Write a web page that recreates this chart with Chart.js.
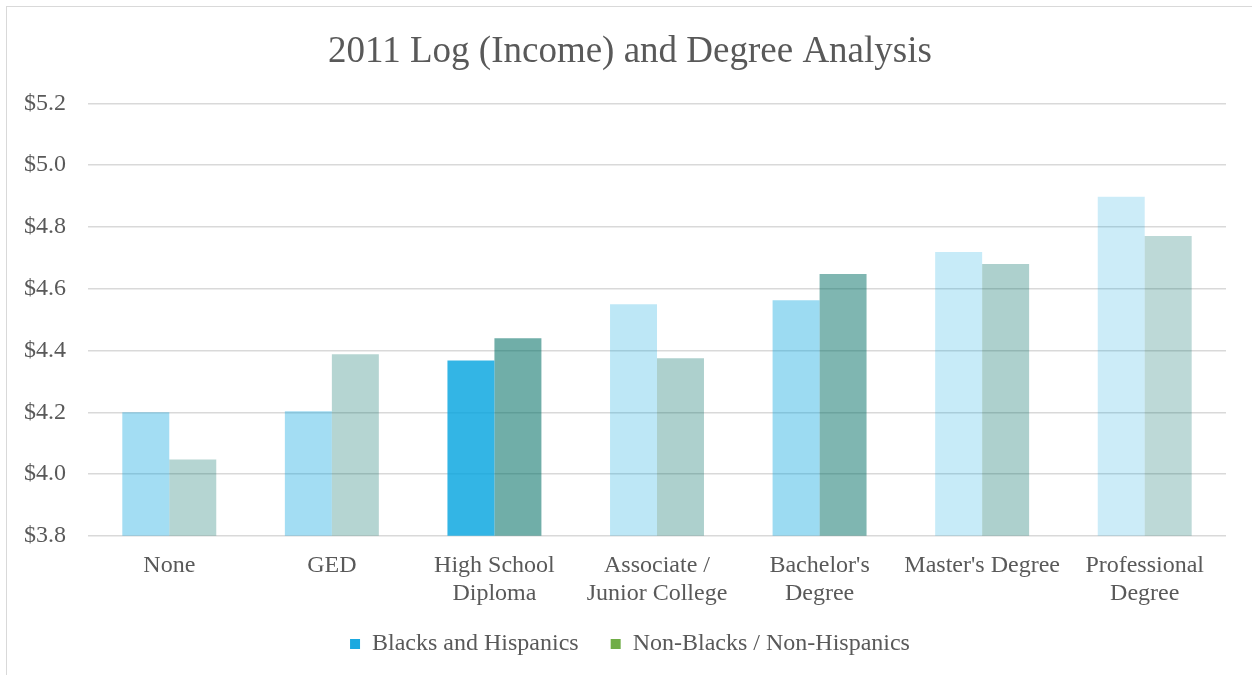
<!DOCTYPE html>
<html>
<head>
<meta charset="utf-8">
<script src="https://cdn.jsdelivr.net/npm/chart.js@4"></script>
<style>
  html, body { margin: 0; padding: 0; background: #fff; overflow: hidden; }
  #frame { position: absolute; left: 6px; top: 6px; width: 1300px; height: 720px; border: 1px solid #d9d9d9; }
  #wrap { position: absolute; left: 8px; top: 8px; width: 1244px; height: 667px; }
</style>
</head>
<body>
<div id="frame"></div>
<div id="wrap"><canvas id="degree-chart"></canvas></div>
<script>
const degreeLabels = ["None", "GED", ["High School", "Diploma"], ["Associate /", "Junior College"], ["Bachelor's", "Degree"], "Master's Degree", ["Professional", "Degree"]];

const blackHispanic = [4.20, 4.203, 4.368, 4.55, 4.563, 4.719, 4.898];
const nonBlackHispanic = [4.047, 4.388, 4.44, 4.375, 4.648, 4.68, 4.771];

// each bar in the original has its own shade
const blueAlpha = [0.36, 0.36, 0.80, 0.26, 0.39, 0.22, 0.20];
const greenAlpha = [0.29, 0.29, 0.56, 0.32, 0.50, 0.32, 0.26];

const yTicks = [3.8, 4.0, 4.2, 4.4, 4.6, 4.8, 5.0, 5.2];

const textColor = "#595959";
const serif = "'Liberation Serif', 'Times New Roman', serif";

new Chart("degree-chart", {
    type: "bar",
    data: {
        labels: degreeLabels,
        datasets: [
            {
                label: "Blacks and Hispanics",
                data: blackHispanic,
                backgroundColor: blueAlpha.map(a => "rgba(0,162,222," + a + ")"),
                borderWidth: 0,
                barPercentage: 1,
                categoryPercentage: 0.578
            },
            {
                label: "Non-Blacks / Non-Hispanics",
                data: nonBlackHispanic,
                backgroundColor: greenAlpha.map(a => "rgba(0,110,100," + a + ")"),
                borderWidth: 0,
                barPercentage: 1,
                categoryPercentage: 0.578
            }
        ]
    },
    options: {
        responsive: true,
        maintainAspectRatio: false,
        animation: false,
        layout: { padding: { left: 0, right: 0, top: 0, bottom: 9 } },
        plugins: {
            title: {
                display: true,
                text: "2011 Log (Income) and Degree Analysis",
                color: textColor,
                font: { family: serif, size: 37, weight: "normal" },
                padding: { top: 22, bottom: 29 }
            },
            legend: {
                position: "bottom",
                labels: {
                    color: textColor,
                    font: { family: serif, size: 24 },
                    boxWidth: 10,
                    boxHeight: 10,
                    padding: 8,
                    generateLabels: chart => [
                        { text: "Blacks and Hispanics    ", fillStyle: "#1aa9e0", strokeStyle: "#1aa9e0", lineWidth: 0, fontColor: textColor, datasetIndex: 0 },
                        { text: "Non-Blacks / Non-Hispanics", fillStyle: "#70ad47", strokeStyle: "#70ad47", lineWidth: 0, fontColor: textColor, datasetIndex: 1 }
                    ]
                }
            },
            tooltip: { enabled: false }
        },
        scales: {
            x: {
                grid: { display: false, drawTicks: false },
                border: { display: false },
                ticks: {
                    color: textColor,
                    font: { family: serif, size: 24, lineHeight: 1.17 },
                    padding: 16,
                    maxRotation: 0,
                    autoSkip: false
                }
            },
            y: {
                min: 3.8,
                max: 5.2,
                afterFit: scale => { scale.width = 80; },
                afterBuildTicks: scale => { scale.ticks = yTicks.map(v => ({ value: v })); },
                grid: { color: "#d9d9d9", lineWidth: 1.5, drawTicks: false },
                border: { display: false },
                ticks: {
                    color: textColor,
                    font: { family: serif, size: 24 },
                    padding: 22,
                    callback: v => "$" + Number(v).toFixed(1)
                }
            },
            // empty right margin so the legend stays centred on the whole chart
            spacer: {
                position: "right",
                afterFit: scale => { scale.width = 26; },
                grid: { display: false, drawTicks: false },
                border: { display: false },
                ticks: { display: false }
            }
        }
    }
});
</script>
</body>
</html>
